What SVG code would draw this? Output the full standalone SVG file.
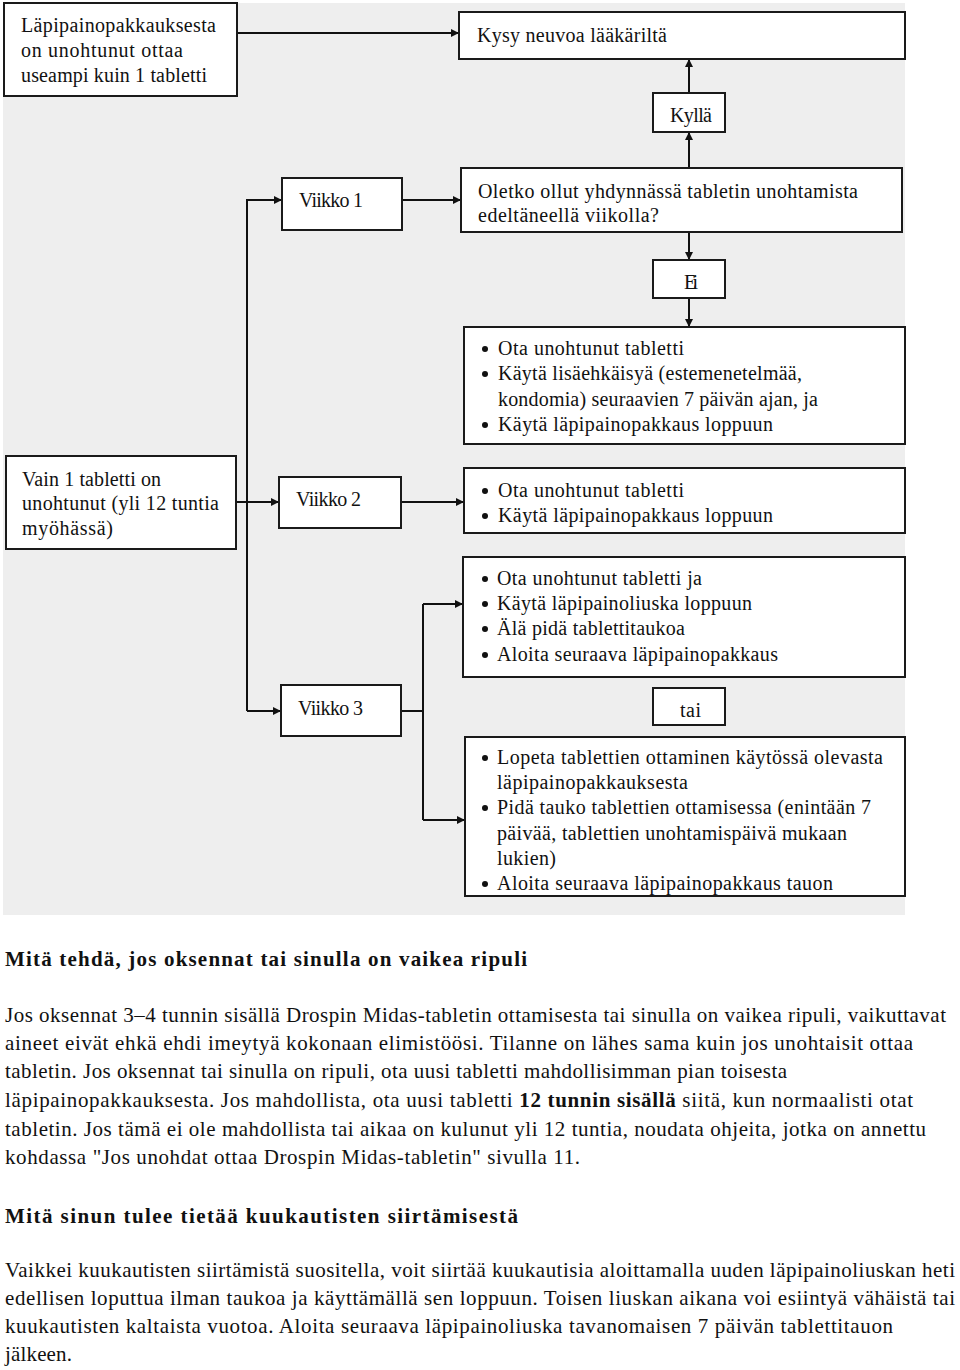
<svg xmlns="http://www.w3.org/2000/svg" width="960" height="1370" viewBox="0 0 960 1370">
<defs>
<style>
.box{fill:#fff;stroke:#1a1a1a;stroke-width:2}
.t{font-family:"Liberation Serif","Times New Roman",serif;font-size:20px;fill:#111}
.b{font-family:"Liberation Serif","Times New Roman",serif;font-size:21px;fill:#111}
.h{font-family:"Liberation Serif","Times New Roman",serif;font-size:21px;font-weight:bold;fill:#111}
.c{fill:none;stroke:#111;stroke-width:2}
.dot{fill:#111}
</style>
<marker id="ah" viewBox="0 0 10 10" refX="10" refY="5" markerWidth="9" markerHeight="8" markerUnits="userSpaceOnUse" orient="auto">
<path d="M0,0 L10,5 L0,10 z" fill="#111"/>
</marker>
<clipPath id="clip4"><rect x="466" y="738" width="438" height="157"/></clipPath>
</defs>
<rect x="3" y="3" width="902" height="912" fill="#eeeeee"/>

<g id="connectors">
<path class="c" d="M237,33 H459" marker-end="url(#ah)"/>
<path class="c" d="M689,93 V59" marker-end="url(#ah)"/>
<path class="c" d="M689,168 V132" marker-end="url(#ah)"/>
<path class="c" d="M402,200 H461" marker-end="url(#ah)"/>
<path class="c" d="M247,711 V200 H282" marker-end="url(#ah)"/>
<path class="c" d="M689,232 V260" marker-end="url(#ah)"/>
<path class="c" d="M689,298 V327" marker-end="url(#ah)"/>
<path class="c" d="M236,502 H279" marker-end="url(#ah)"/>
<path class="c" d="M401,502 H464" marker-end="url(#ah)"/>
<path class="c" d="M247,711 H281" marker-end="url(#ah)"/>
<path class="c" d="M401,711 H423"/>
<path class="c" d="M423,604 V820"/>
<path class="c" d="M423,604 H463" marker-end="url(#ah)"/>
<path class="c" d="M423,820 H465" marker-end="url(#ah)"/>
</g>

<g id="n-many">
<rect class="box" x="4" y="3" width="233" height="93"/>
<text class="t" x="21" y="32" textLength="195" lengthAdjust="spacing">Läpipainopakkauksesta</text>
<text class="t" x="21" y="57" textLength="162" lengthAdjust="spacing">on unohtunut ottaa</text>
<text class="t" x="21" y="82" textLength="186" lengthAdjust="spacing">useampi kuin 1 tabletti</text>
</g>

<g id="n-doctor">
<rect class="box" x="459" y="12" width="446" height="47"/>
<text class="t" x="477" y="42" textLength="190" lengthAdjust="spacing">Kysy neuvoa lääkäriltä</text>
</g>

<g id="n-yes">
<rect class="box" x="653" y="93" width="72" height="39"/>
<text class="t" x="670" y="122" textLength="42" lengthAdjust="spacing">Kyllä</text>
</g>

<g id="n-question">
<rect class="box" x="461" y="168" width="441" height="64"/>
<text class="t" x="478" y="198" textLength="380" lengthAdjust="spacing">Oletko ollut yhdynnässä tabletin unohtamista</text>
<text class="t" x="478" y="222" textLength="181" lengthAdjust="spacing">edeltäneellä viikolla?</text>
</g>

<g id="n-week1">
<rect class="box" x="282" y="178" width="120" height="52"/>
<text class="t" x="299" y="207" textLength="64" lengthAdjust="spacing">Viikko 1</text>
</g>

<g id="n-no">
<rect class="box" x="653" y="260" width="72" height="38"/>
<text class="t" x="684" y="289" textLength="14" lengthAdjust="spacing">Ei</text>
</g>

<g id="n-week1-actions">
<rect class="box" x="464" y="327" width="441" height="117"/>
<circle class="dot" cx="485" cy="349" r="3"/>
<circle class="dot" cx="485" cy="374" r="3"/>
<circle class="dot" cx="485" cy="425" r="3"/>
<text class="t" x="498" y="355" textLength="186" lengthAdjust="spacing">Ota unohtunut tabletti</text>
<text class="t" x="498" y="380" textLength="304" lengthAdjust="spacing">Käytä lisäehkäisyä (estemenetelmää,</text>
<text class="t" x="498" y="406" textLength="320" lengthAdjust="spacing">kondomia) seuraavien 7 päivän ajan, ja</text>
<text class="t" x="498" y="431" textLength="275" lengthAdjust="spacing">Käytä läpipainopakkaus loppuun</text>
</g>

<g id="n-one">
<rect class="box" x="6" y="456" width="230" height="93"/>
<text class="t" x="22" y="486" textLength="139" lengthAdjust="spacing">Vain 1 tabletti on</text>
<text class="t" x="22" y="510" textLength="197" lengthAdjust="spacing">unohtunut (yli 12 tuntia</text>
<text class="t" x="22" y="535" textLength="91" lengthAdjust="spacing">myöhässä)</text>
</g>

<g id="n-week2">
<rect class="box" x="279" y="477" width="122" height="51"/>
<text class="t" x="296" y="506" textLength="65" lengthAdjust="spacing">Viikko 2</text>
</g>

<g id="n-week2-actions">
<rect class="box" x="464" y="468" width="441" height="65"/>
<circle class="dot" cx="485" cy="491" r="3"/>
<circle class="dot" cx="485" cy="516" r="3"/>
<text class="t" x="498" y="497" textLength="186" lengthAdjust="spacing">Ota unohtunut tabletti</text>
<text class="t" x="498" y="522" textLength="275" lengthAdjust="spacing">Käytä läpipainopakkaus loppuun</text>
</g>

<g id="n-week3-a">
<rect class="box" x="463" y="557" width="442" height="120"/>
<circle class="dot" cx="485" cy="579" r="3"/>
<circle class="dot" cx="485" cy="604" r="3"/>
<circle class="dot" cx="485" cy="629" r="3"/>
<circle class="dot" cx="485" cy="655" r="3"/>
<text class="t" x="497" y="585" textLength="205" lengthAdjust="spacing">Ota unohtunut tabletti ja</text>
<text class="t" x="497" y="610" textLength="255" lengthAdjust="spacing">Käytä läpipainoliuska loppuun</text>
<text class="t" x="497" y="635" textLength="188" lengthAdjust="spacing">Älä pidä tablettitaukoa</text>
<text class="t" x="497" y="661" textLength="281" lengthAdjust="spacing">Aloita seuraava läpipainopakkaus</text>
</g>

<g id="n-week3">
<rect class="box" x="281" y="685" width="120" height="51"/>
<text class="t" x="298" y="715" textLength="65" lengthAdjust="spacing">Viikko 3</text>
</g>

<g id="n-or">
<rect class="box" x="653" y="688" width="72" height="37"/>
<text class="t" x="680" y="717" textLength="21" lengthAdjust="spacing">tai</text>
</g>

<g id="n-week3-b">
<rect class="box" x="465" y="737" width="440" height="159"/>
<g clip-path="url(#clip4)">
<circle class="dot" cx="485" cy="758" r="3"/>
<circle class="dot" cx="485" cy="808" r="3"/>
<circle class="dot" cx="485" cy="884" r="3"/>
<text class="t" x="497" y="764" textLength="386" lengthAdjust="spacing">Lopeta tablettien ottaminen käytössä olevasta</text>
<text class="t" x="497" y="789" textLength="191" lengthAdjust="spacing">läpipainopakkauksesta</text>
<text class="t" x="497" y="814" textLength="374" lengthAdjust="spacing">Pidä tauko tablettien ottamisessa (enintään 7</text>
<text class="t" x="497" y="840" textLength="350" lengthAdjust="spacing">päivää, tablettien unohtamispäivä mukaan</text>
<text class="t" x="497" y="865" textLength="59" lengthAdjust="spacing">lukien)</text>
<text class="t" x="497" y="890" textLength="336" lengthAdjust="spacing">Aloita seuraava läpipainopakkaus tauon</text>
</g>
</g>

<text class="h" x="5" y="966" textLength="522" lengthAdjust="spacing">Mitä tehdä, jos oksennat tai sinulla on vaikea ripuli</text>
<text class="b" x="5" y="1022" textLength="941" lengthAdjust="spacing">Jos oksennat 3–4 tunnin sisällä Drospin Midas-tabletin ottamisesta tai sinulla on vaikea ripuli, vaikuttavat</text>
<text class="b" x="5" y="1050" textLength="908" lengthAdjust="spacing">aineet eivät ehkä ehdi imeytyä kokonaan elimistöösi. Tilanne on lähes sama kuin jos unohtaisit ottaa</text>
<text class="b" x="5" y="1078" textLength="782" lengthAdjust="spacing">tabletin. Jos oksennat tai sinulla on ripuli, ota uusi tabletti mahdollisimman pian toisesta</text>
<text class="b" x="5" y="1107" textLength="908" lengthAdjust="spacing">läpipainopakkauksesta. Jos mahdollista, ota uusi tabletti <tspan font-weight="bold">12 tunnin sisällä</tspan> siitä, kun normaalisti otat</text>
<text class="b" x="5" y="1136" textLength="921" lengthAdjust="spacing">tabletin. Jos tämä ei ole mahdollista tai aikaa on kulunut yli 12 tuntia, noudata ohjeita, jotka on annettu</text>
<text class="b" x="5" y="1164" textLength="575" lengthAdjust="spacing">kohdassa "Jos unohdat ottaa Drospin Midas-tabletin" sivulla 11.</text>

<text class="h" x="5" y="1223" textLength="513" lengthAdjust="spacing">Mitä sinun tulee tietää kuukautisten siirtämisestä</text>
<text class="b" x="5" y="1277" textLength="950" lengthAdjust="spacing">Vaikkei kuukautisten siirtämistä suositella, voit siirtää kuukautisia aloittamalla uuden läpipainoliuskan heti</text>
<text class="b" x="5" y="1305" textLength="950" lengthAdjust="spacing">edellisen loputtua ilman taukoa ja käyttämällä sen loppuun. Toisen liuskan aikana voi esiintyä vähäistä tai</text>
<text class="b" x="5" y="1333" textLength="888" lengthAdjust="spacing">kuukautisten kaltaista vuotoa. Aloita seuraava läpipainoliuska tavanomaisen 7 päivän tablettitauon</text>
<text class="b" x="5" y="1361" textLength="67" lengthAdjust="spacing">jälkeen.</text>
</svg>
